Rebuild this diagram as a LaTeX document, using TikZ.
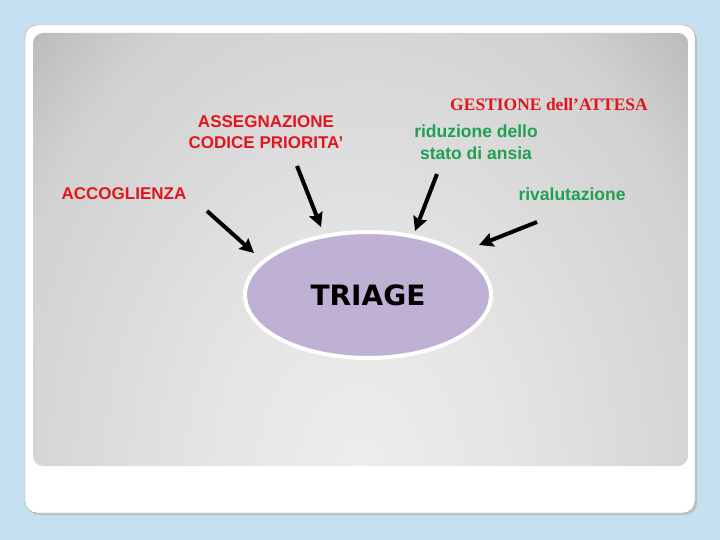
\documentclass[tikz,border=0pt]{standalone}
\usepackage{fontspec}
\usepackage{tikz}
\usetikzlibrary{arrows.meta}
\usetikzlibrary{positioning}
\usetikzlibrary{shapes.geometric}

\newfontfamily\arialfont{Liberation Sans}
\newfontfamily\timesfont{Liberation Serif}
\newfontfamily\verdanafont{DejaVu Sans}

\definecolor{slideblue}{RGB}{197,224,241}
\definecolor{labelred}{RGB}{228,20,28}
\definecolor{labelgreen}{RGB}{32,160,82}
\definecolor{triagefill}{RGB}{191,177,211}
\definecolor{glowa}{RGB}{237,237,237}
\definecolor{glowb}{RGB}{229,229,229}
\definecolor{glowc}{RGB}{209,209,209}
\definecolor{glowd}{RGB}{188,188,188}
\definecolor{glowe}{RGB}{160,160,160}

\pgfdeclareradialshading{slideglow}{\pgfpoint{0bp}{0bp}}{%
    color(0bp)=(glowa); color(7.6bp)=(glowb); color(19.7bp)=(glowc);
    color(24bp)=(glowd); color(34bp)=(glowe); color(50bp)=(glowe)}

\begin{document}
\begin{tikzpicture}[x=1pt, y=-1pt,
    redlabel/.style={text=labelred, font=\arialfont\bfseries\fontsize{17}{21}\selectfont, align=center},
    greenlabel/.style={text=labelgreen, font=\arialfont\bfseries\fontsize{17.5}{22}\selectfont, align=center},
    pointer/.style={line width=4pt, -{Stealth[length=14pt, width=14pt, inset=2pt]}}]
    \useasboundingbox (0, 0) rectangle (720, 540);
    \fill [slideblue] (0, 0) rectangle (720, 540);

    \fill [black!25] (27, 28) [rounded corners=12pt] rectangle (697, 515);
    \filldraw [white, draw=black!35, rounded corners=12pt] (25, 25) rectangle (695, 513);
    \begin{scope}
        \clip [rounded corners=10pt] (33, 33) rectangle (688, 466);
        \shade [shading=slideglow] (360, 470) ellipse [x radius=476pt, y radius=644pt];
    \end{scope}

    \node [ellipse, minimum width=246pt, minimum height=126pt, fill=triagefill,
        draw=white, line width=4pt, font=\verdanafont\bfseries\fontsize{28}{34}\selectfont] (triage) at (368, 295) {TRIAGE};

    \node [redlabel] (assegnazione) at (266, 132) {ASSEGNAZIONE\\CODICE PRIORITA’};
    \node [redlabel] (accoglienza) at (124, 194) {ACCOGLIENZA};
    \node [text=labelred, font=\timesfont\bfseries\fontsize{17.5}{21}\selectfont] (gestione) at (549, 105) {GESTIONE dell’ATTESA};
    \node [greenlabel] (riduzione) at (476, 142) {riduzione dello\\stato di ansia};
    \node [greenlabel] (rivalutazione) at (572, 194) {rivalutazione};

    \coordinate (from1) at (207, 211);
    \coordinate (to1) at (254, 253);
    \coordinate (from2) at (297, 166);
    \coordinate (to2) at (321, 227);
    \coordinate (from3) at (437, 174);
    \coordinate (to3) at (415, 231);
    \coordinate (from4) at (537, 222);
    \coordinate (to4) at (479, 245);

    \draw [pointer] (from1) -- (to1);
    \draw [pointer] (from2) -- (to2);
    \draw [pointer] (from3) -- (to3);
    \draw [pointer] (from4) -- (to4);
\end{tikzpicture}
\end{document}
